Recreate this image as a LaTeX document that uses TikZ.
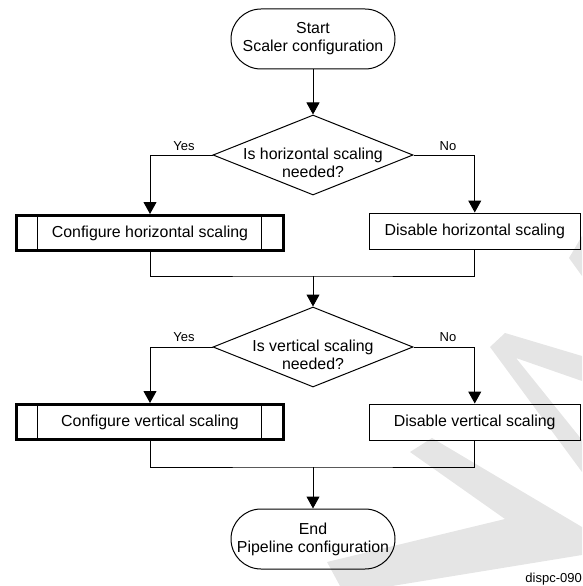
\documentclass[tikz,border=0pt]{standalone}
\usepackage{fontspec}
\setmainfont{Liberation Sans}
\usetikzlibrary{arrows.meta,shapes.geometric}
\begin{document}
\begin{tikzpicture}[x=1pt,y=-1pt,
  every node/.style={font=\fontsize{15.9}{18}\selectfont},
  term/.style={draw,line width=1pt,rectangle,rounded corners=30pt,minimum width=164pt,minimum height=60pt,inner sep=0pt,align=center},
  dec/.style={draw,line width=1pt,diamond,minimum width=200pt,minimum height=80pt,inner sep=0pt},
  dectext/.style={align=center,inner sep=0pt},
  proc/.style={draw,line width=1pt,rectangle,minimum width=211pt,minimum height=36pt,inner sep=0pt},
  sub/.style={draw,line width=3pt,rectangle,minimum width=267pt,minimum height=35pt,inner sep=0pt},
  lbl/.style={font=\fontsize{13}{15}\selectfont,inner sep=0pt},
  arr/.style={line width=1pt,-{Triangle[length=12pt,width=13pt]}},
  conn/.style={line width=1pt},
  wm/.style={fill=black!10,draw=none}
]
\useasboundingbox (0,0) rectangle (582,586);
% watermark
\fill[wm] (490,347) -- (505,333) -- (582,356) -- (582,381) -- (516,358) -- (582,440) -- (582,472) -- cycle;
\fill[wm] (410,452) -- (432,438) -- (582,527) -- (582,555) -- (392,586) -- (340,586) -- (327,562) -- (505,519) -- cycle;
\fill[wm] (582,236) -- (582,276) -- (569,258) -- cycle;

% nodes
\node[term] (start) at (313,39) {Start\\Scaler configuration};
\node[dec] (d1) at (313,155) {};
\node[dectext] (d1t) at (313,163) {Is horizontal scaling\\needed?};
\node[sub] (ch) at (150,233) {Configure horizontal scaling};
\draw[conn] ([xshift=22.5pt]ch.north west) -- ([xshift=22.5pt]ch.south west);
\draw[conn] ([xshift=-23.5pt]ch.north east) -- ([xshift=-23.5pt]ch.south east);
\node[proc] (dh) at (474.75,231) {Disable horizontal scaling};
\coordinate (m1) at (313,276);

\node[dec] (d2) at (313,347) {};
\node[dectext] (d2t) at (313,355) {Is vertical scaling\\needed?};
\node[sub] (cv) at (150,422) {Configure vertical scaling};
\draw[conn] ([xshift=22.5pt]cv.north west) -- ([xshift=22.5pt]cv.south west);
\draw[conn] ([xshift=-23.5pt]cv.north east) -- ([xshift=-23.5pt]cv.south east);
\node[proc] (dv) at (474.75,422) {Disable vertical scaling};
\coordinate (m2) at (313,467);
\node[term] (end) at (313,539) {End\\Pipeline configuration};

% labels
\node[lbl] (y1) at (184,146) {Yes};
\node[lbl] (n1) at (448,146) {No};
\node[lbl] (y2) at (184,337) {Yes};
\node[lbl] (n2) at (448,337) {No};
\node[lbl,anchor=east] (fig) at (582,579) {dispc-090};

% connectors
\draw[arr] (start) -- (d1);
\draw[arr] (d1.west) -| (ch.north);
\draw[arr] (d1.east) -| (dh.north);
\draw[conn] (ch.south) |- (m1) -| (dh.south);
\draw[arr] (m1) -- (d2.north);
\draw[arr] (d2.west) -| (cv.north);
\draw[arr] (d2.east) -| (dv.north);
\draw[conn] (cv.south) |- (m2) -| (dv.south);
\draw[arr] (m2) -- (end.north);
\end{tikzpicture}
\end{document}
